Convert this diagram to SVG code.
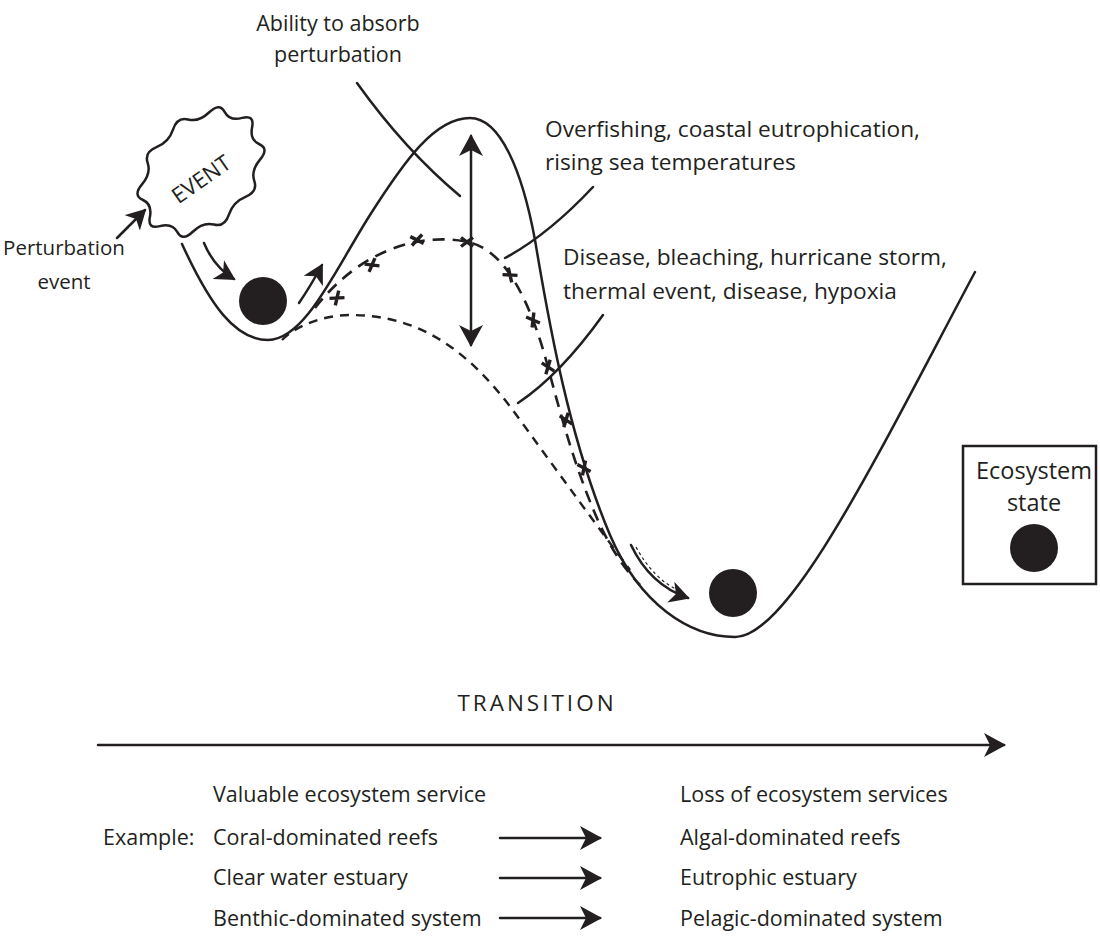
<svg xmlns="http://www.w3.org/2000/svg" width="1100" height="936" viewBox="0 0 1100 936">
<style>
text{font-family:"Open Sans","Liberation Sans",sans-serif;font-size:20.5px;fill:#231f20}
.big{font-size:22.7px}
.lg{font-size:23.5px}
.bt{font-size:21.5px}
.ln{fill:none;stroke:#231f20;stroke-width:2.5;stroke-linecap:round}
.ds{fill:none;stroke:#231f20;stroke-width:2.6;stroke-dasharray:12 8}
.ds2{fill:none;stroke:#231f20;stroke-width:2.4;stroke-dasharray:9 7}
.ball{fill:#231f20}
.x{stroke:#231f20;stroke-width:3.4;fill:none}
</style>
<defs>
<marker id="ah" viewBox="0 0 22 24" refX="20" refY="12" markerWidth="22" markerHeight="24" markerUnits="userSpaceOnUse" orient="auto-start-reverse">
<path d="M0,0 L22,12 L0,24 L6,12 Z" fill="#231f20"/>
</marker>
<marker id="ahs" viewBox="0 0 22 24" refX="20" refY="12" markerWidth="20" markerHeight="22" markerUnits="userSpaceOnUse" orient="auto">
<path d="M0,0 L22,12 L0,24 L6,12 Z" fill="#231f20"/>
</marker>
<path id="cr" d="M-6,-4.5 L6,4.5 M-6,4.5 L6,-4.5"/>
</defs>

<g id="landscape">
<path class="ln" d="M182,244 C210,305 235,340 268,340 C305,340 335,270 370,215 C405,160 435,118 470,118 C500,118 522,170 535,240 C550,330 570,440 610,535 C640,605 690,637 735,637 C790,637 880,450 975,272"/>
</g>

<g id="connectors">
<path class="ds" d="M315,308 C360,250 420,232 468,242 C505,250 530,300 548,367 C558,405 575,470 600,525 C612,550 625,570 640,585"/>
<path class="ds2" d="M282,340 C300,322 330,315 350,315 C420,315 470,350 520,420 C560,475 600,530 630,570"/>
<g class="x">
<use href="#cr" transform="translate(337,298) rotate(-40)"/>
<use href="#cr" transform="translate(372,265) rotate(-30)"/>
<use href="#cr" transform="translate(417,240) rotate(-10)"/>
<use href="#cr" transform="translate(467,242)"/>
<use href="#cr" transform="translate(510,275) rotate(40)"/>
<use href="#cr" transform="translate(533,320) rotate(60)"/>
<use href="#cr" transform="translate(548,367) rotate(70)"/>
<use href="#cr" transform="translate(566,420) rotate(70)"/>
<use href="#cr" transform="translate(584,468) rotate(65)"/>
</g>
<path class="ln" d="M471,136 L471,345" marker-start="url(#ah)" marker-end="url(#ah)"/>
<path class="ln" d="M204,243 Q214,267 234,279" marker-end="url(#ahs)"/>
<path class="ln" d="M299,303 Q310,287 322,265" marker-end="url(#ahs)"/>
<path class="ln" d="M117,238 L145,210" marker-end="url(#ahs)"/>
<path class="ln" d="M631,545 Q650,585 688,598" marker-end="url(#ahs)"/>
<path fill="none" stroke="#231f20" stroke-width="1.2" stroke-dasharray="3 3" d="M636,547 Q654,580 680,591"/>
<path class="ln" d="M357,83 Q405,150 460,196"/>
<path class="ln" d="M593,187 Q548,235 505,258"/>
<path class="ln" d="M603,315 Q560,375 518,403"/>
<path class="ln" stroke-width="3" d="M98,745 L1004,745" marker-end="url(#ah)"/>
<path class="ln" d="M500,838 L600,838" marker-end="url(#ah)"/>
<path class="ln" d="M500,878 L600,878" marker-end="url(#ah)"/>
<path class="ln" d="M500,918 L600,918" marker-end="url(#ah)"/>
</g>

<g id="event">
<path fill="#fff" stroke="#231f20" stroke-width="2.5" vector-effect="non-scaling-stroke" transform="translate(201,172) rotate(-47) scale(0.95,1.4)" d="M71.2,-4.85 Q82.8,0 71.2,4.85 Q59.6,9.7 63.3,17 Q67,24.3 51.9,24.8 Q36.8,25.3 31.2,32.35 Q25.6,39.4 12.8,35.35 Q0,31.3 -12.8,35.35 Q-25.6,39.4 -31.2,32.35 Q-36.8,25.3 -51.9,24.8 Q-67,24.3 -63.3,17 Q-59.6,9.7 -71.2,4.85 Q-82.8,0 -71.2,-4.85 Q-59.6,-9.7 -63.3,-17 Q-67,-24.3 -51.9,-24.8 Q-36.8,-25.3 -31.2,-32.35 Q-25.6,-39.4 -12.8,-35.35 Q0,-31.3 12.8,-35.35 Q25.6,-39.4 31.2,-32.35 Q36.8,-25.3 51.9,-24.8 Q67,-24.3 63.3,-17 Q59.6,-9.7 71.2,-4.85 Z"/>
<text transform="translate(201,179) rotate(-35)" text-anchor="middle" y="8" style="font-size:22px">EVENT</text>
</g>

<g id="ball-start"><circle class="ball" cx="263" cy="301" r="24"/></g>
<g id="ball-end"><circle class="ball" cx="733" cy="593" r="24"/></g>

<g id="legend">
<rect x="963" y="446" width="133" height="138" fill="none" stroke="#231f20" stroke-width="2.5"/>
<text x="1034" y="479" text-anchor="middle" class="lg">Ecosystem</text>
<text x="1034" y="511" text-anchor="middle" class="lg">state</text>
<circle class="ball" cx="1034" cy="548" r="24"/>
</g>

<g id="labels">
<text x="338" y="31" text-anchor="middle" style="font-size:21.5px">Ability to absorb</text>
<text x="338" y="62" text-anchor="middle" style="font-size:21.5px">perturbation</text>
<text x="545" y="137" class="big">Overfishing, coastal eutrophication,</text>
<text x="545" y="170" class="big">rising sea temperatures</text>
<text x="563" y="265" class="big">Disease, bleaching, hurricane storm,</text>
<text x="563" y="299" class="big">thermal event, disease, hypoxia</text>
<text x="64" y="255" text-anchor="middle">Perturbation</text>
<text x="64" y="289" text-anchor="middle">event</text>
<text x="537" y="711" text-anchor="middle" style="font-size:22.5px;letter-spacing:3px">TRANSITION</text>
<text x="213" y="802" class="bt">Valuable ecosystem service</text>
<text x="103" y="845" class="bt">Example:</text>
<text x="213" y="845" class="bt">Coral-dominated reefs</text>
<text x="213" y="885" class="bt">Clear water estuary</text>
<text x="213" y="926" class="bt">Benthic-dominated system</text>
<text x="680" y="802" class="bt">Loss of ecosystem services</text>
<text x="680" y="845" class="bt">Algal-dominated reefs</text>
<text x="680" y="885" class="bt">Eutrophic estuary</text>
<text x="680" y="926" class="bt">Pelagic-dominated system</text>
</g>
</svg>
